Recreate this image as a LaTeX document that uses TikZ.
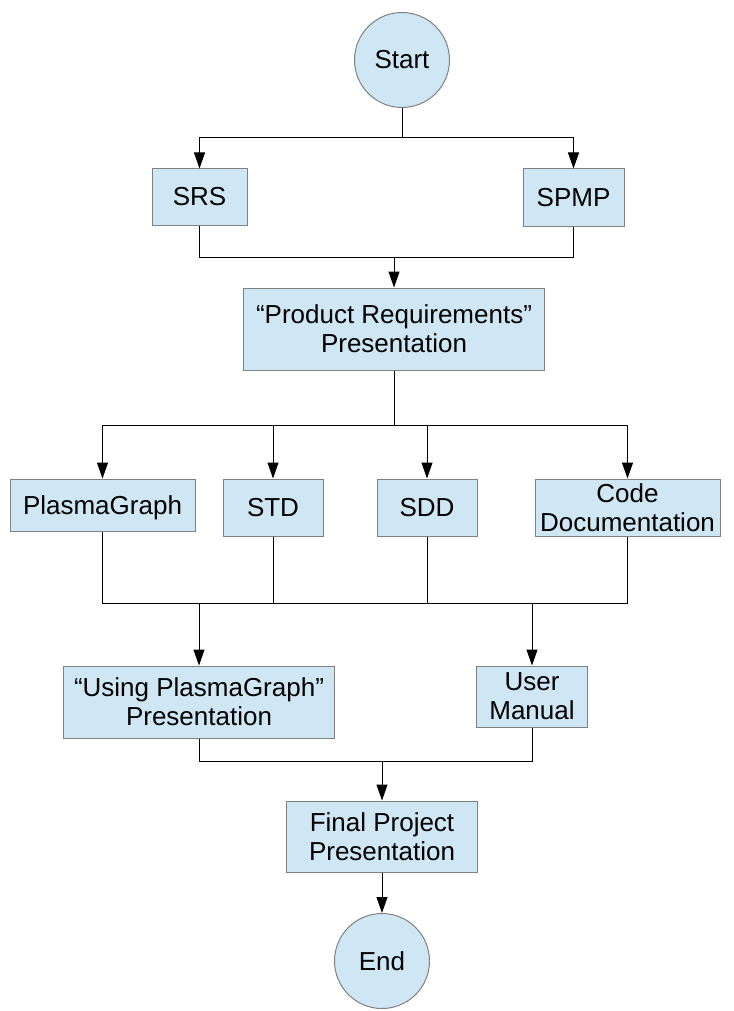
\documentclass[tikz,border=0pt]{standalone}
\usepackage{fontspec}
\setmainfont{Liberation Sans}
\usepackage{tikz}
\usepackage{xcolor}
\usetikzlibrary{arrows.meta}
\definecolor{boxblue}{RGB}{207,230,244}
\definecolor{boxline}{RGB}{128,128,128}

\begin{document}
\begin{tikzpicture}[x=1pt, y=-1pt, line width=1pt,
  every node/.style={font=\fontsize{26}{29}\selectfont, align=center, inner sep=0pt},
  box/.style={rectangle, draw=boxline, fill=boxblue},
  term/.style={circle, draw=boxline, fill=boxblue, minimum size=95pt},
  arr/.style={-{Triangle[length=16pt,width=11pt]}}]
\useasboundingbox (0,0) rectangle (733,1011);
% Start and planning documents
\node[term] (start) at (402,60) {Start};
\node[box, minimum width=95pt, minimum height=56pt] (srs) at (199.5,197) {SRS};
\node[box, minimum width=101pt, minimum height=57pt] (spmp) at (573.5,197.5) {SPMP};
\node[box, minimum width=301pt, minimum height=82pt] (prodreq) at (394,329) {``Product Requirements''\\Presentation};
\coordinate (split1) at (402,138);
\coordinate (join1) at (394,257);
\draw (start) -- (split1);
\draw[arr] (split1) -| (srs);
\draw[arr] (split1) -| (spmp);
\draw (srs) |- (spmp |- join1) -- (spmp);
\draw[arr] (join1) -- (prodreq);
% Design and code
\node[box, minimum width=185pt, minimum height=52pt, text depth=0pt] (pgraph) at (102.5,505) {PlasmaGraph};
\node[box, minimum width=100pt, minimum height=57pt] (std) at (273,507.5) {STD};
\node[box, minimum width=100pt, minimum height=57pt] (sdd) at (427,507.5) {SDD};
\node[box, minimum width=185pt, minimum height=57pt] (codedoc) at (627.5,507.5) {Code\\Documentation};
\coordinate (split2) at (394,425);
\draw (prodreq) -- (split2);
\draw[arr] (split2) -| (pgraph);
\draw[arr] (split2) -| (std);
\draw[arr] (split2) -| (sdd);
\draw[arr] (split2) -| (codedoc);
% Presentation and manual
\node[box, minimum width=271pt, minimum height=72pt] (usingpg) at (199,702) {``Using PlasmaGraph''\\Presentation};
\node[box, minimum width=111pt, minimum height=61pt] (manual) at (532,696.5) {User\\Manual};
\coordinate (join2a) at (199,603);
\coordinate (join2b) at (532,603);
\draw (pgraph) |- (codedoc |- join2a) -- (codedoc);
\draw (std) -- (std |- join2a);
\draw (sdd) -- (sdd |- join2a);
\draw[arr] (join2a) -- (usingpg);
\draw[arr] (join2b) -- (manual);
% Final
\node[box, minimum width=191pt, minimum height=71pt] (final) at (382,836.5) {Final Project\\Presentation};
\node[term] (stop) at (382,961) {End};
\coordinate (join3) at (382,761);
\draw (usingpg) |- (manual |- join3) -- (manual);
\draw[arr] (join3) -- (final);
\draw[arr] (final) -- (stop);
\end{tikzpicture}
\end{document}
